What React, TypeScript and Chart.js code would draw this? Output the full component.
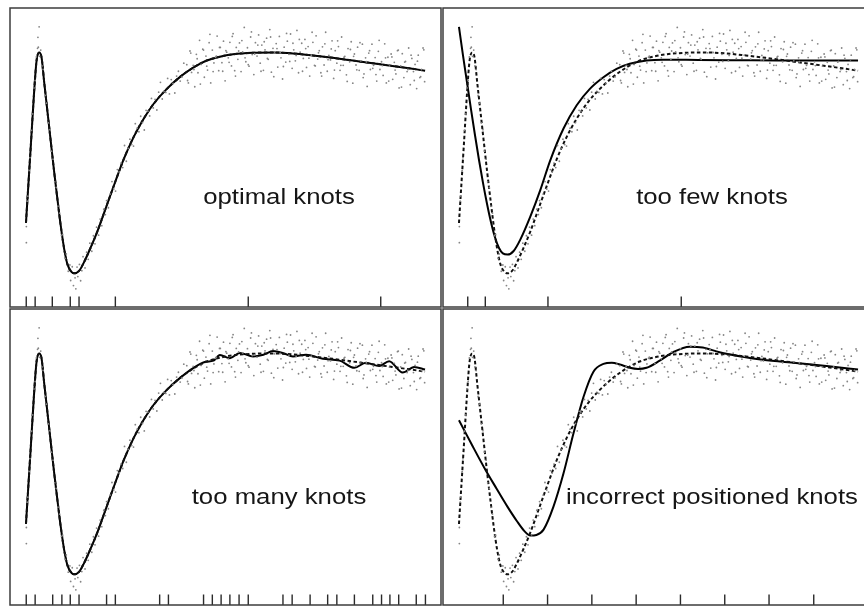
import React, { useEffect, useRef } from "react";
import { Chart, registerables } from "chart.js";

Chart.register(...registerables);

// ---- data (x: 0..100 across the fitted range, y: arbitrary response units) ----
const trueX = [0, 0.42, 1.25, 2.07, 2.66, 3.32, 3.9, 4.57, 5.4, 6.23, 7.06, 7.9, 8.73, 9.56, 10.4, 11.4, 12.2, 13.3, 14.5, 16.2, 17.9, 20.3, 22.4, 24.5, 27, 29.5, 32, 35.3, 38.7, 42, 45.3, 48.6, 51.9, 56.9, 61.9, 66.9, 71.9, 76.9, 81.9, 86.9, 91.8, 96, 100];
const trueY = [28.2, 37.1, 54.9, 72.7, 82.7, 85.4, 83.8, 75.4, 65.4, 55.4, 45.4, 36, 27.1, 19.6, 14.3, 11.8, 11.3, 12.1, 14.9, 19.9, 25.4, 34.3, 42.1, 49.6, 57.1, 63.2, 68.2, 73.2, 77.3, 80.4, 82.7, 84, 84.8, 85.3, 85.4, 85.1, 84.4, 83.6, 82.7, 81.8, 80.9, 80.1, 79.3];

const optimalX = trueX;
const optimalY = trueY;

const fewX = [0, 1, 2, 3, 4, 5, 6, 7, 8, 9, 10, 11, 12.2, 13.7, 15.4, 17.9, 20.4, 22.9, 26.2, 29.5, 32.8, 36.2, 39.5, 42.8, 47, 51.1, 60, 70, 80, 90, 100];
const fewY = [94, 84.5, 75.5, 66.5, 57.8, 49.5, 41.8, 34.8, 28.6, 23.5, 19.9, 18.0, 17.6, 18.8, 22.7, 30.4, 39.3, 49.3, 59.9, 67.7, 73.2, 77.1, 79.9, 81.6, 82.7, 83, 82.9, 82.8, 82.7, 82.7, 82.7];

const manyX = [0, 0.42, 1.25, 2.07, 2.66, 3.32, 3.9, 4.57, 5.4, 6.23, 7.06, 7.9, 8.73, 9.56, 10.4, 11.4, 12.2, 13.3, 14.5, 16.2, 17.9, 20.3, 22.4, 24.5, 27, 29.5, 32, 35.3, 38.7, 42, 45, 47, 48.6, 51.1, 53.6, 56.9, 59.5, 61.9, 64.5, 66.9, 70.2, 74.4, 78.6, 82.3, 85.2, 88.5, 91, 94.4, 97.3, 100];
const manyY = [28.2, 37.1, 54.9, 72.7, 82.7, 85.4, 83.8, 75.4, 65.4, 55.4, 45.4, 36, 27.1, 19.6, 14.3, 11.8, 11.3, 12.1, 14.9, 19.9, 25.4, 34.3, 42.1, 49.6, 57.1, 63.2, 68.2, 73.2, 77.3, 80.6, 82.6, 83.0, 84.9, 83.8, 85.6, 84.4, 85.0, 86.2, 85.5, 84.4, 85.0, 83.6, 83.0, 80.6, 82.3, 81.2, 82.8, 79.0, 80.9, 80.0];

const incX = [0, 3.3, 6.66, 9.4, 12.1, 14.5, 16.4, 17.9, 19.4, 21.2, 23.7, 26.2, 28.7, 31.2, 33.7, 36.2, 38.3, 40.3, 42.8, 44.9, 47, 50.3, 53.6, 57.8, 61.1, 65.3, 71.1, 76.1, 84.4, 92.7, 100];
const incY = [63, 54.6, 46.3, 40.1, 34.1, 29.2, 25.8, 24.3, 24.5, 26.3, 34.1, 45.2, 58.6, 70.8, 79.3, 81.9, 82.3, 81.7, 80.6, 80.2, 80.6, 83, 85.8, 87.7, 87.4, 85.8, 84.3, 83.3, 82.2, 81.1, 80];

const knotsOptimal = [0.07, 2.3, 6.6, 11.1, 13.3, 22.4, 55.7, 88.9];
const knotsFew = [2.2, 6.6, 22.3, 55.7];
const knotsMany = [0.07, 2.3, 6.7, 9.0, 11.1, 13.3, 20.2, 22.4, 33.5, 35.7, 44.5, 46.7, 48.9, 51.1, 53.4, 55.7, 64.4, 66.7, 71.2, 75.6, 77.9, 82.3, 86.9, 89.1, 91.2, 93.4, 97.8, 100.1];
const knotsIncorrect = [11.1, 22.2, 33.3, 44.4, 55.5, 66.6, 77.7, 88.9];

const labels = ["optimal knots", "too few knots", "too many knots", "incorrect positioned knots"];

const noiseDots: [number, number][] = [
  [0.1, 21.6], [0.1, 27.0], [0.3, 35.5], [0.5, 37.2], [0.8, 45.8], [1.0, 50.1], [1.4, 59.3], [1.7, 64.8], [2.0, 73.5], [2.3, 76.0],
  [2.6, 83.9], [2.9, 86.8], [3.0, 90.5], [3.1, 87.2], [3.3, 94.0], [3.4, 84.1], [3.7, 86.2], [4.0, 80.9], [4.3, 79.7], [4.8, 71.0],
  [5.1, 68.4], [5.6, 61.8], [6.0, 59.5], [6.4, 52.3], [6.8, 49.6], [7.2, 42.0], [7.6, 40.1], [8.0, 33.8], [8.4, 31.5], [8.9, 24.0],
  [9.2, 24.4], [9.8, 16.3], [10.1, 17.8], [10.6, 12.0], [11.0, 14.1],
  [11.2, 8.9], [11.6, 13.5], [11.9, 7.2], [12.3, 9.8], [12.5, 6.1], [12.8, 13.4], [13.0, 10.2], [13.4, 14.3], [13.7, 8.8], [14.0, 12.2],
  [14.3, 16.9], [14.8, 13.1], [15.2, 18.4], [15.6, 16.0], [16.0, 21.4], [16.5, 18.7], [16.9, 23.9], [17.3, 21.2], [17.7, 26.8], [18.2, 24.1],
  [18.6, 29.5], [19.0, 27.3], [19.5, 32.8], [19.9, 31.0],
  [20.2, 35.7], [20.65, 33.3], [21.1, 37.9], [21.55, 42.1], [22.0, 39.6], [22.45, 38.9], [22.9, 46.1], [23.35, 45.3], [23.8, 48.3], [24.25, 46.8],
  [24.7, 54.2], [25.15, 48.9], [25.6, 53.2], [26.05, 56.3], [26.5, 54.5], [26.95, 54.0], [27.4, 61.5], [27.85, 60.0], [28.3, 58.8], [28.75, 64.0],
  [29.2, 61.9], [29.65, 59.4], [30.1, 66.0], [30.55, 65.7], [31.0, 64.1], [31.45, 70.0], [31.9, 66.8], [32.35, 69.7], [32.8, 66.1], [33.25, 72.1],
  [33.7, 75.4], [34.15, 69.8], [34.6, 72.3], [35.05, 72.0], [35.5, 76.7], [35.95, 71.5], [36.4, 76.3], [36.85, 75.0], [37.3, 71.8], [37.75, 77.5],
  [38.2, 79.1], [38.65, 75.8], [39.1, 77.2], [39.55, 81.8],
  [40.3, 81.3], [40.7, 75.2], [41.1, 85.9], [41.5, 78.7], [41.9, 81.1], [42.3, 73.9], [42.7, 84.8], [43.1, 78.6], [43.5, 89.5], [43.9, 81.4],
  [44.3, 86.5], [44.7, 77.1], [45.1, 84.2], [45.5, 79.5], [45.9, 88.7], [46.3, 75.2], [46.7, 86.2], [47.1, 81.9], [47.5, 83.8], [47.9, 90.9],
  [48.3, 79.3], [48.7, 87.1], [49.1, 82.0], [49.5, 89.2], [49.9, 75.9], [50.3, 85.5], [50.7, 83.6], [51.1, 88.8], [51.5, 80.9], [51.9, 91.7],
  [52.3, 79.3], [52.7, 87.1], [53.1, 83.1], [53.5, 88.6], [53.9, 79.0], [54.3, 85.6], [54.7, 93.8], [55.1, 82.3], [55.5, 87.0], [55.9, 80.8],
  [56.3, 90.6], [56.7, 84.7], [57.1, 78.0], [57.5, 88.7], [57.9, 84.2], [58.3, 91.3], [58.7, 81.8], [59.1, 87.9], [59.5, 79.4], [59.9, 86.3],
  [60.3, 90.2], [60.7, 83.1], [61.1, 93.1], [61.5, 78.8], [61.9, 86.8], [62.3, 85.3], [62.7, 88.4], [63.1, 80.5], [63.5, 90.8], [63.9, 83.6],
  [64.3, 76.5], [64.7, 87.2], [65.1, 82.2], [65.5, 89.2], [65.9, 84.8], [66.3, 91.6], [66.7, 80.1], [67.1, 86.3], [67.5, 82.6], [67.9, 92.8],
  [68.3, 78.6], [68.7, 85.5], [69.1, 88.5], [69.5, 83.4], [69.9, 89.8], [70.3, 80.4], [70.7, 87.4], [71.1, 77.5], [71.5, 84.5], [71.9, 88.8],
  [72.3, 81.1], [72.7, 91.0], [73.1, 83.2], [73.5, 86.0], [73.9, 78.6], [74.3, 87.3], [74.7, 81.2], [75.1, 92.2], [75.5, 79.1], [75.9, 84.4],
  [76.3, 82.9], [76.7, 89.3], [77.1, 76.7], [77.5, 86.0], [77.9, 81.8], [78.3, 87.4], [78.7, 79.4], [79.1, 90.6], [79.5, 81.1], [79.9, 84.1],
  [80.3, 77.9], [80.7, 86.7], [81.1, 82.3], [81.5, 89.0], [81.9, 75.1], [82.3, 84.9], [82.7, 81.2], [83.1, 87.2], [83.5, 79.4], [83.9, 82.6],
  [84.3, 88.2], [84.7, 78.2], [85.1, 83.6], [85.5, 74.0], [85.9, 85.2], [86.3, 79.7], [86.7, 88.2], [87.1, 81.1], [87.5, 83.7], [87.9, 75.8],
  [88.3, 85.8], [88.7, 79.7], [89.1, 82.3], [89.5, 77.7], [89.9, 88.3], [90.3, 75.2], [90.7, 83.8], [91.1, 80.8], [91.5, 84.9], [91.9, 76.4],
  [92.3, 82.1], [92.7, 78.2], [93.1, 86.0], [93.5, 73.5], [93.9, 80.9], [94.3, 85.0], [94.7, 77.0], [95.1, 82.4], [95.5, 79.0], [95.9, 86.9],
  [96.3, 74.6], [96.7, 83.4], [97.1, 79.0], [97.5, 81.4], [97.9, 73.3], [98.3, 84.5], [98.7, 77.0], [99.1, 79.7], [99.5, 86.9], [99.9, 75.6],
  [40.5, 76.0], [41.3, 85.2], [42.1, 79.7], [42.9, 83.3], [43.7, 74.8], [44.5, 86.2], [45.3, 80.8], [46.1, 91.5], [46.9, 79.0], [47.7, 84.2],
  [48.5, 87.1], [49.3, 79.1], [50.1, 86.0], [50.9, 82.1], [51.7, 90.8], [52.5, 77.5], [53.3, 85.9], [54.1, 89.4], [54.9, 83.6], [55.7, 81.3],
  [56.5, 92.3], [57.3, 84.9], [58.1, 87.9], [58.9, 79.1], [59.7, 89.0], [60.5, 83.4], [61.3, 90.6], [62.1, 77.3], [62.9, 86.7], [63.7, 85.4],
  [64.5, 80.7], [65.3, 91.8], [66.1, 82.4], [66.9, 88.5], [67.7, 84.4], [68.5, 89.8], [69.3, 79.1], [70.1, 86.7], [70.9, 83.5], [71.7, 92.2],
  [72.5, 80.9], [73.3, 85.3], [74.1, 77.5], [74.9, 88.3], [75.7, 83.0], [76.5, 86.6], [77.3, 79.5], [78.1, 89.3], [78.9, 81.1], [79.7, 83.8],
  [80.5, 75.7], [81.3, 86.4], [82.1, 84.1], [82.9, 79.6], [83.7, 88.7], [84.5, 77.0], [85.3, 82.3], [86.1, 86.0], [86.9, 80.1], [87.7, 78.0],
  [88.5, 89.5], [89.3, 81.0], [90.1, 83.6], [90.9, 75.8], [91.7, 83.9], [92.5, 79.5], [93.3, 86.2], [94.1, 73.8], [94.9, 82.2], [95.7, 79.7],
  [96.5, 84.5], [97.3, 76.0], [98.1, 82.5], [98.9, 77.3], [99.7, 86.3],
];

// ---- layout ----
const X_MIN = -4;
const X_MAX = 104;
const PAD = 3;

type PanelDef = {
  left: number; top: number; width: number; height: number;
  yMin: number; yMax: number;
  fitX: number[]; fitY: number[]; knots: number[];
  label: string; labelX: number; labelY: number;
};

const panels: PanelDef[] = [
  { left: 9, top: 7, width: 433, height: 301, yMin: 0, yMax: 100.33, fitX: optimalX, fitY: optimalY, knots: knotsOptimal, label: labels[0], labelX: 63.4, labelY: 34.7 },
  { left: 442, top: 7, width: 433, height: 301, yMin: 0, yMax: 100.33, fitX: fewX, fitY: fewY, knots: knotsFew, label: labels[1], labelX: 63.4, labelY: 34.7 },
  { left: 9, top: 308, width: 433, height: 298, yMin: 1, yMax: 100.33, fitX: manyX, fitY: manyY, knots: knotsMany, label: labels[2], labelX: 63.4, labelY: 35 },
  { left: 442, top: 308, width: 433, height: 298, yMin: 1, yMax: 100.33, fitX: incX, fitY: incY, knots: knotsIncorrect, label: labels[3], labelX: 63.4, labelY: 35 },
];

const toPts = (xs: number[], ys: number[]) => xs.map((x, i) => ({ x, y: ys[i] }));

function Panel({ p }: { p: PanelDef }) {
  const ref = useRef<HTMLCanvasElement | null>(null);
  useEffect(() => {
    if (!ref.current) return;
    const decor = {
      id: "panelDecor",
      afterDatasetsDraw(chart: any) {
        const { ctx, chartArea: a, scales } = chart;
        const xs = scales.x;
        const ys = scales.y;
        ctx.save();
        // knot ticks
        ctx.strokeStyle = "#2a2a2a";
        ctx.lineWidth = 1.4;
        ctx.beginPath();
        for (const k of p.knots) {
          const px = xs.getPixelForValue(k);
          ctx.moveTo(px, a.bottom);
          ctx.lineTo(px, a.bottom - 10.5);
        }
        ctx.stroke();
        // label
        ctx.fillStyle = "#161616";
        ctx.font = '22px "Liberation Sans", Arial, Helvetica, sans-serif';
        ctx.textAlign = "center";
        ctx.textBaseline = "alphabetic";
        ctx.translate(xs.getPixelForValue(p.labelX), ys.getPixelForValue(p.labelY));
        ctx.scale(1.17, 1);
        ctx.fillText(p.label, 0, 0);
        ctx.restore();
        // frame
        ctx.save();
        ctx.strokeStyle = "#3c3c3c";
        ctx.lineWidth = 1.5;
        ctx.strokeRect(a.left, a.top, a.right - a.left, a.bottom - a.top);
        ctx.restore();
      },
    };
    const chart = new Chart(ref.current, {
      type: "line",
      data: {
        datasets: [
          {
            label: "observations",
            data: noiseDots.map(([x, y]) => ({ x, y })),
            showLine: false,
            pointRadius: 0.9,
            pointBorderWidth: 0,
            pointBackgroundColor: "#858585",
            borderColor: "#858585",
          },
          {
            label: "true function",
            data: toPts(trueX, trueY),
            borderColor: "#111",
            borderWidth: 2,
            borderDash: [3.5, 2.5],
            pointRadius: 0,
            cubicInterpolationMode: "monotone",
            fill: false,
          },
          {
            label: "fit",
            data: toPts(p.fitX, p.fitY),
            borderColor: "#000",
            borderWidth: 2,
            pointRadius: 0,
            cubicInterpolationMode: "monotone",
            fill: false,
          },
        ],
      } as any,
      options: {
        responsive: false,
        animation: false,
        devicePixelRatio: 1,
        events: [],
        layout: { padding: PAD },
        plugins: { legend: { display: false }, tooltip: { enabled: false } },
        scales: {
          x: { type: "linear", display: false, min: X_MIN, max: X_MAX },
          y: { type: "linear", display: false, min: p.yMin, max: p.yMax },
        },
      } as any,
      plugins: [decor],
    });
    return () => chart.destroy();
  }, [p]);
  return (
    <canvas
      ref={ref}
      width={p.width + 2 * PAD}
      height={p.height + 2 * PAD}
      style={{ position: "absolute", left: p.left - PAD, top: p.top - PAD }}
    />
  );
}

export default function App() {
  return (
    <div
      style={{
        position: "absolute",
        left: 0,
        top: 0,
        width: 864,
        height: 607,
        overflow: "hidden",
        background: "#fff",
      }}
    >
      {panels.map((p, i) => (
        <Panel key={i} p={p} />
      ))}
    </div>
  );
}
